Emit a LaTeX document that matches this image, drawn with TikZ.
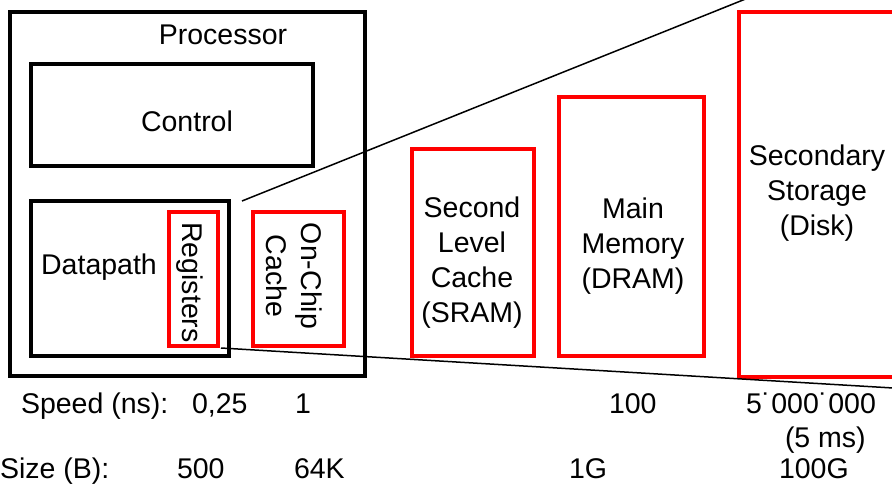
\documentclass[tikz,border=0pt]{standalone}
\usepackage{fontspec}
\setmainfont{Liberation Sans}
\begin{document}
\begin{tikzpicture}[x=1pt,y=-1pt,
  box/.style={draw=black,line width=3.2pt,inner sep=0pt,outer sep=0pt,rectangle},
  redbox/.style={draw=red,line width=3.3pt,inner sep=0pt,outer sep=0pt,rectangle},
  lbl/.style={inner sep=0pt,outer sep=0pt,font=\fontsize{28.5pt}{35pt}\selectfont,align=center},
  val/.style={inner sep=0pt,outer sep=0pt,anchor=base west,font=\fontsize{28.5pt}{35pt}\selectfont},
  conn/.style={draw=black,line width=1.5pt}]
\useasboundingbox (0,0) rectangle (892,484);
\clip (0,0) rectangle (892,484);
% boxes
\node[box,minimum width=355pt,minimum height=364pt] (proc) at (187.5,194) {};
\node[box,minimum width=282pt,minimum height=102pt] (ctrl) at (172,115) {};
\node[box,minimum width=198pt,minimum height=155pt] (dp) at (130,278.5) {};
\node[redbox,minimum width=49pt,minimum height=134pt] (reg) at (193.5,279) {};
\node[redbox,minimum width=91pt,minimum height=134pt] (onchip) at (298.5,279) {};
\node[redbox,minimum width=122pt,minimum height=207pt] (l2) at (473,252.5) {};
\node[redbox,minimum width=145pt,minimum height=259pt] (mem) at (631.5,226.5) {};
\node[redbox,minimum width=166pt,minimum height=365pt] (disk) at (822,194.5) {};
% labels
\node[lbl,anchor=base] (tproc) at (223,45) {Processor};
\node[lbl,anchor=base] (tctrl) at (187,132) {Control};
\node[lbl,anchor=base] (tdp) at (99,274) {Datapath};
\node[lbl,rotate=-90] (treg) at (190,282.5) {Registers};
\node[lbl,rotate=-90] (tonchip) at (294,276) {On-Chip\\Cache};
\node[lbl] (tl2) at (472,263) {Second\\Level\\Cache\\(SRAM)};
\node[lbl] (tmem) at (633,246) {Main\\Memory\\(DRAM)};
\node[lbl] (tdisk) at (817,193) {Secondary\\Storage\\(Disk)};
% connectors
\coordinate (ua) at (242,201);
\coordinate (ub) at (768,-10);
\coordinate (la) at (221,348);
\coordinate (lb) at (910,389);
\draw[conn] (ua) -- (ub);
\draw[conn] (la) -- (lb);
% values
\node[val] (speed) at (21,413) {Speed (ns):};
\node[val] (s1) at (192,413) {0,25};
\node[val] (s2) at (295,413) {1};
\node[val] (s3) at (609,413) {100};
\node[val] (s4) at (746,413) {5˙000˙000};
\node[val] (s5) at (785,447) {(5 ms)};
\node[val] (size) at (0,478) {Size (B):};
\node[val] (z1) at (177,478) {500};
\node[val] (z2) at (294,478) {64K};
\node[val] (z3) at (569,478) {1G};
\node[val] (z4) at (779,478) {100G};
\end{tikzpicture}
\end{document}
